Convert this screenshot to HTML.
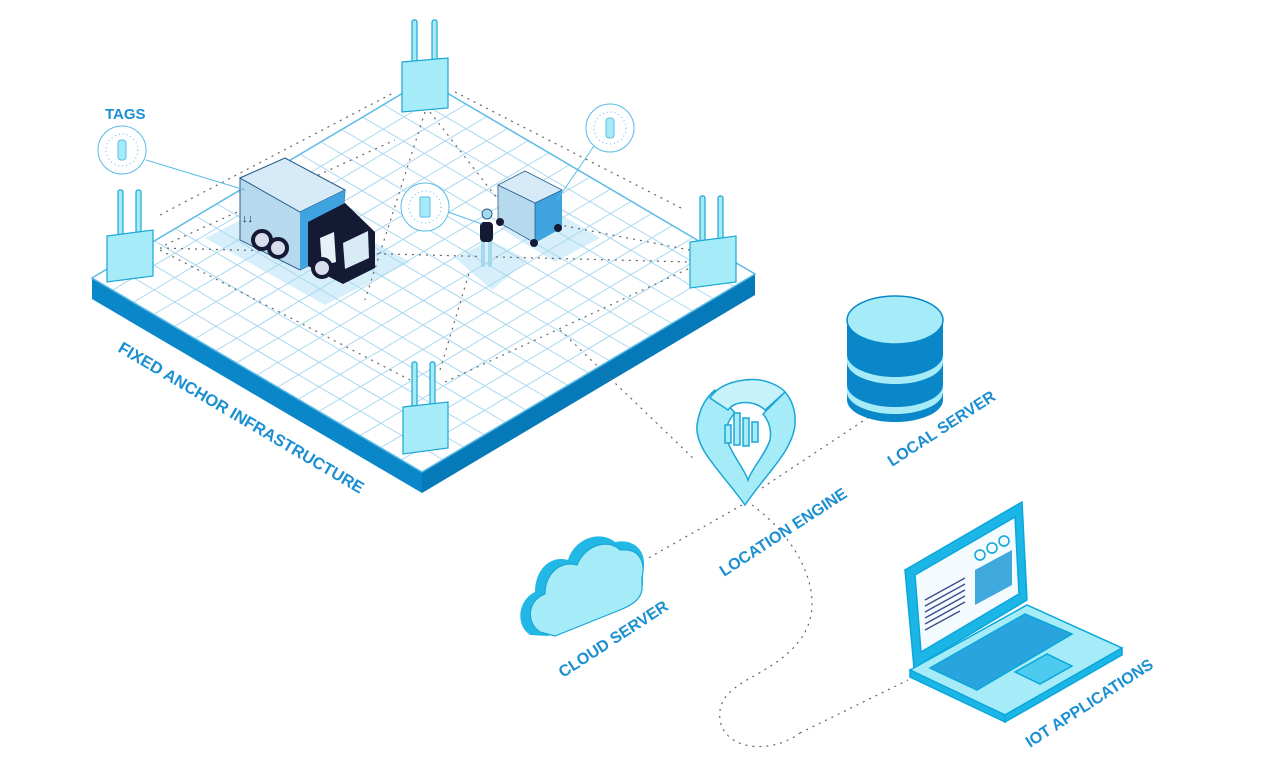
<!DOCTYPE html>
<html><head><meta charset="utf-8"><style>
html,body{margin:0;padding:0;background:#fff;}
svg{display:block;}
text{font-family:"Liberation Sans",sans-serif;font-weight:bold;fill:#1b8fd2;}
</style></head><body>
<svg width="1275" height="772" viewBox="0 0 1275 772" xmlns="http://www.w3.org/2000/svg">
<polygon points="92,278 422,472 422,493 92,299" fill="#0a87c9"/>
<polygon points="422,472 755,274 755,295 422,493" fill="#0679b8"/>
<polygon points="92,278 425,80 755,274 422,472" fill="#ffffff"/>
<polygon points="205,238 290,195 410,262 325,305" fill="#d7effa"/>
<polygon points="455,258 490,240 528,260 492,290" fill="#d7effa"/>
<polygon points="500,228 545,205 600,238 555,262" fill="#d7effa"/>
<g transform="matrix(333,-198,330,194,92,278)" stroke="#a9d8f0" fill="none">
<line x1="0.0625" y1="0" x2="0.0625" y2="1" vector-effect="non-scaling-stroke"/>
<line x1="0.125" y1="0" x2="0.125" y2="1" vector-effect="non-scaling-stroke"/>
<line x1="0.1875" y1="0" x2="0.1875" y2="1" vector-effect="non-scaling-stroke"/>
<line x1="0.25" y1="0" x2="0.25" y2="1" vector-effect="non-scaling-stroke"/>
<line x1="0.3125" y1="0" x2="0.3125" y2="1" vector-effect="non-scaling-stroke"/>
<line x1="0.375" y1="0" x2="0.375" y2="1" vector-effect="non-scaling-stroke"/>
<line x1="0.4375" y1="0" x2="0.4375" y2="1" vector-effect="non-scaling-stroke"/>
<line x1="0.5" y1="0" x2="0.5" y2="1" vector-effect="non-scaling-stroke"/>
<line x1="0.5625" y1="0" x2="0.5625" y2="1" vector-effect="non-scaling-stroke"/>
<line x1="0.625" y1="0" x2="0.625" y2="1" vector-effect="non-scaling-stroke"/>
<line x1="0.6875" y1="0" x2="0.6875" y2="1" vector-effect="non-scaling-stroke"/>
<line x1="0.75" y1="0" x2="0.75" y2="1" vector-effect="non-scaling-stroke"/>
<line x1="0.8125" y1="0" x2="0.8125" y2="1" vector-effect="non-scaling-stroke"/>
<line x1="0.875" y1="0" x2="0.875" y2="1" vector-effect="non-scaling-stroke"/>
<line x1="0.9375" y1="0" x2="0.9375" y2="1" vector-effect="non-scaling-stroke"/>
<line y1="0.0625" x1="0" y2="0.0625" x2="1" vector-effect="non-scaling-stroke"/>
<line y1="0.125" x1="0" y2="0.125" x2="1" vector-effect="non-scaling-stroke"/>
<line y1="0.1875" x1="0" y2="0.1875" x2="1" vector-effect="non-scaling-stroke"/>
<line y1="0.25" x1="0" y2="0.25" x2="1" vector-effect="non-scaling-stroke"/>
<line y1="0.3125" x1="0" y2="0.3125" x2="1" vector-effect="non-scaling-stroke"/>
<line y1="0.375" x1="0" y2="0.375" x2="1" vector-effect="non-scaling-stroke"/>
<line y1="0.4375" x1="0" y2="0.4375" x2="1" vector-effect="non-scaling-stroke"/>
<line y1="0.5" x1="0" y2="0.5" x2="1" vector-effect="non-scaling-stroke"/>
<line y1="0.5625" x1="0" y2="0.5625" x2="1" vector-effect="non-scaling-stroke"/>
<line y1="0.625" x1="0" y2="0.625" x2="1" vector-effect="non-scaling-stroke"/>
<line y1="0.6875" x1="0" y2="0.6875" x2="1" vector-effect="non-scaling-stroke"/>
<line y1="0.75" x1="0" y2="0.75" x2="1" vector-effect="non-scaling-stroke"/>
<line y1="0.8125" x1="0" y2="0.8125" x2="1" vector-effect="non-scaling-stroke"/>
<line y1="0.875" x1="0" y2="0.875" x2="1" vector-effect="non-scaling-stroke"/>
<line y1="0.9375" x1="0" y2="0.9375" x2="1" vector-effect="non-scaling-stroke"/>
</g>
<polygon points="92,278 425,80 755,274 422,472" fill="none" stroke="#5bbbe6" stroke-width="1.5"/>

<g stroke="#666" stroke-width="1.2" stroke-dasharray="2,5" fill="none">
<line x1="160" y1="215" x2="395" y2="92"/>
<line x1="455" y1="92" x2="685" y2="210"/>
<line x1="160" y1="248" x2="690" y2="262"/>
<line x1="160" y1="250" x2="410" y2="380"/>
<line x1="445" y1="382" x2="690" y2="268"/>
<line x1="425" y1="112" x2="365" y2="300"/>
<line x1="430" y1="112" x2="510" y2="215"/>
<line x1="165" y1="245" x2="395" y2="140"/>
<line x1="440" y1="370" x2="470" y2="270"/>
<line x1="690" y1="250" x2="560" y2="225"/>
<line x1="560" y1="330" x2="695" y2="460"/>
<line x1="762" y1="488" x2="872" y2="415"/>
<line x1="742" y1="505" x2="645" y2="560"/>
<line x1="800" y1="733" x2="908" y2="680"/>
<path d="M752,505 C800,540 830,600 800,640 C770,680 715,680 720,720 C725,750 770,755 800,733"/>
</g>

<g stroke="#1ba6d6" stroke-width="1.2">
<rect x="412" y="20" width="5" height="45" rx="2" fill="#a6ecf8"/>
<rect x="432" y="20" width="5" height="45" rx="2" fill="#a6ecf8"/>
<polygon points="402,62 448,58 448,108 402,112" fill="#a6ecf8"/>
<rect x="118" y="190" width="5" height="45" rx="2" fill="#a6ecf8"/>
<rect x="136" y="190" width="5" height="45" rx="2" fill="#a6ecf8"/>
<polygon points="107,236 153,230 153,276 107,282" fill="#a6ecf8"/>
<rect x="700" y="196" width="5" height="45" rx="2" fill="#a6ecf8"/>
<rect x="718" y="196" width="5" height="45" rx="2" fill="#a6ecf8"/>
<polygon points="690,242 736,236 736,282 690,288" fill="#a6ecf8"/>
<rect x="412" y="362" width="5" height="45" rx="2" fill="#a6ecf8"/>
<rect x="430" y="362" width="5" height="45" rx="2" fill="#a6ecf8"/>
<polygon points="403,407 448,402 448,448 403,454" fill="#a6ecf8"/>
</g>

<!-- truck -->
<polygon points="240,178 285,158 345,190 340,250 300,270 240,240" fill="#b7d9ee" stroke="#2a5f8a" stroke-width="1"/>
<polygon points="240,178 285,158 345,190 300,212" fill="#d6ebf7" stroke="#2a5f8a" stroke-width="1"/>
<polygon points="300,212 345,190 340,250 300,270" fill="#3fa3df"/>
<polygon points="308,222 345,203 375,232 375,268 343,284 308,266" fill="#141a33"/>
<polygon points="343,243 368,231 369,258 345,269" fill="#d9ebf7"/>
<polygon points="320,238 334,232 336,262 322,266" fill="#e8f0f8"/>
<circle cx="262" cy="240" r="9" fill="#d8dcec" stroke="#141a33" stroke-width="4"/>
<circle cx="278" cy="248" r="9" fill="#d8dcec" stroke="#141a33" stroke-width="4"/>
<circle cx="322" cy="268" r="9" fill="#d8dcec" stroke="#141a33" stroke-width="4"/>
<text x="242" y="222" font-size="11" style="fill:#223">↓↓</text>

<!-- cart -->
<polygon points="498,185 525,171 562,190 562,228 535,243 498,222" fill="#3fa3df"/>
<polygon points="498,185 535,203 535,243 498,222" fill="#b7d9ee" stroke="#2a5f8a" stroke-width="0.8"/>
<polygon points="498,185 525,171 562,190 535,203" fill="#d6ebf7" stroke="#2a5f8a" stroke-width="0.8"/>
<circle cx="534" cy="243" r="4" fill="#141a33"/>
<circle cx="558" cy="228" r="4" fill="#141a33"/>
<circle cx="500" cy="222" r="4" fill="#141a33"/>

<!-- person -->
<circle cx="487" cy="214" r="5" fill="#a6d8f0" stroke="#2a5f8a"/>
<rect x="480" y="222" width="13" height="20" rx="4" fill="#141a33"/>
<rect x="481" y="242" width="4" height="25" fill="#a6d8f0"/>
<rect x="488" y="242" width="4" height="25" fill="#a6d8f0"/>

<g fill="#fff" stroke="#5bbbe6" stroke-width="1">
<line x1="146" y1="160" x2="245" y2="190"/>
<line x1="594" y1="146" x2="557" y2="200"/>
<line x1="448" y1="212" x2="482" y2="224"/>
<circle cx="122" cy="150" r="24"/>
<circle cx="610" cy="128" r="24"/>
<circle cx="425" cy="207" r="24"/>
<circle cx="122" cy="150" r="16" stroke-dasharray="1,3"/>
<circle cx="610" cy="128" r="16" stroke-dasharray="1,3"/>
<circle cx="425" cy="207" r="16" stroke-dasharray="1,3"/>
<rect x="118" y="140" width="8" height="20" rx="3" fill="#a6ecf8"/>
<rect x="606" y="118" width="8" height="20" rx="3" fill="#a6ecf8"/>
<rect x="420" y="197" width="10" height="20" rx="1" fill="#a6ecf8"/>
</g>

<g>
<path d="M847,320 L847,400 A48,22 0 0 0 943,400 L943,320 Z" fill="#0a87c9"/>
<path d="M847,355 A48,22 0 0 0 943,355 L943,362 A48,22 0 0 1 847,362 Z" fill="#a6ecf8"/>
<path d="M847,385 A48,22 0 0 0 943,385 L943,392 A48,22 0 0 1 847,392 Z" fill="#a6ecf8"/>
<ellipse cx="895" cy="320" rx="48" ry="24" fill="#a6ecf8" stroke="#0a87c9" stroke-width="1.5"/>
</g>

<g stroke="#1ba6d6" stroke-width="1.5">
<path d="M745,505 C720,470 695,450 697,425 C700,405 708,396 715,390 L735,413 C728,420 725,428 727,440 C732,455 745,470 748,480 C752,468 765,455 770,440 C772,428 768,420 763,414 L785,392 C792,400 796,410 795,425 C792,452 765,475 745,505 Z" fill="#a6ecf8"/>
<path d="M710,398 C720,382 745,378 760,380 C772,382 782,388 785,392 L765,410 C755,400 735,400 728,410 Z" fill="#c6f2fb"/>
<rect x="725" y="425" width="6" height="18" fill="#a6ecf8"/>
<rect x="734" y="413" width="6" height="32" fill="#a6ecf8"/>
<rect x="743" y="418" width="6" height="28" fill="#a6ecf8"/>
<rect x="752" y="422" width="6" height="20" fill="#a6ecf8"/>
</g>

<path d="M530,635 C515,625 518,600 535,592 C535,570 550,555 568,560 C575,538 600,530 615,542 C635,538 648,552 643,572 L643,585 L548,636 Z" fill="#22b8e6"/>
<path d="M540,632 C525,622 528,600 545,594 C545,574 560,560 577,565 C585,545 608,538 620,550 C638,548 646,560 642,578 L642,590 C640,600 632,605 620,610 L555,636 Z" fill="#a6ecf8" stroke="#1ba6d6" stroke-width="1.2"/>

<g stroke="#0aa7dc" stroke-width="1.5">
<polygon points="905,570 1022,502 1027,600 914,668" fill="#1cb6e6"/>
<polygon points="915,575 1015,517 1019,594 921,652" fill="#f4fbfe"/>
<polygon points="975,570 1012,550 1012,585 975,605" fill="#3fa8dc" stroke="none"/>
<circle cx="980" cy="555" r="5" fill="none"/>
<circle cx="992" cy="548" r="5" fill="none"/>
<circle cx="1004" cy="541" r="5" fill="none"/>
<polygon points="910,670 1027,605 1122,648 1005,715" fill="#a6ecf8"/>
<polygon points="910,670 1005,715 1005,722 910,677" fill="#1cb6e6"/>
<polygon points="1005,715 1122,648 1122,655 1005,722" fill="#1cb6e6"/>
<polygon points="930,668 1025,614 1072,634 977,690" fill="#2aa4dc"/>
<polygon points="1015,672 1047,654 1072,666 1040,684" fill="#4ccaf0"/>
</g>
<g stroke="#3b4a8c" stroke-width="1.3">
<line x1="925" y1="600" x2="965" y2="578"/><line x1="925" y1="606" x2="965" y2="584"/>
<line x1="925" y1="612" x2="965" y2="590"/><line x1="925" y1="618" x2="965" y2="596"/>
<line x1="925" y1="624" x2="965" y2="602"/><line x1="925" y1="630" x2="960" y2="611"/>
</g>

<text x="105" y="119" font-size="15">TAGS</text>
<text transform="translate(117,351) rotate(30.5)" font-size="16.5">FIXED ANCHOR INFRASTRUCTURE</text>
<text transform="translate(892,467) rotate(-33)" font-size="16">LOCAL SERVER</text>
<text transform="translate(724,577) rotate(-33)" font-size="16">LOCATION ENGINE</text>
<text transform="translate(563,678) rotate(-33)" font-size="16">CLOUD SERVER</text>
<text transform="translate(1030,748) rotate(-33)" font-size="16">IOT APPLICATIONS</text>
</svg>
</body></html>
